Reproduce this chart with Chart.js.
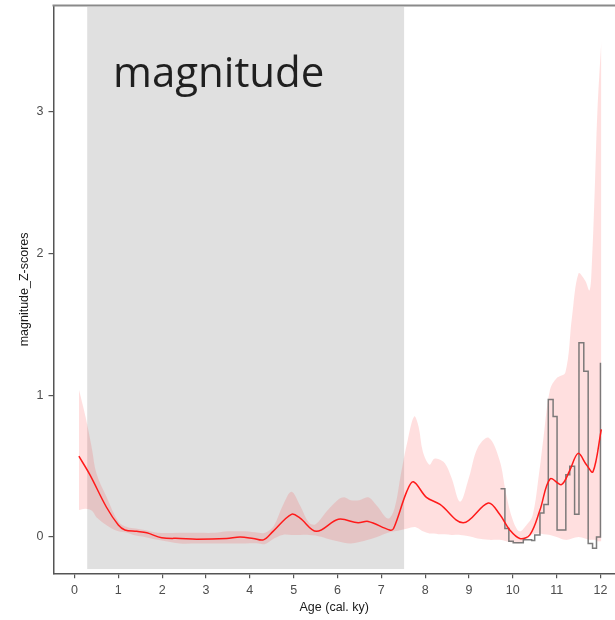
<!DOCTYPE html>
<html>
<head>
<meta charset="utf-8">
<script src="https://cdn.jsdelivr.net/npm/chart.js@4.4.1/dist/chart.umd.min.js"></script>
<style>
  html, body { margin: 0; padding: 0; background: #ffffff; }
  #wrap { width: 615px; height: 620px; position: relative; }
</style>
</head>
<body>
<div id="wrap"><canvas id="c" width="615" height="620"></canvas></div>
<script>
// ---- data ----
const xTicks = [0,1,2,3,4,5,6,7,8,9,10,11,12];
const yTicks = [0,1,2,3];

const meanAge = [0.1,0.35,0.73,1.0,1.15,1.42,1.65,1.99,2.41,2.79,3.47,3.78,4.08,4.31,4.53,4.95,5.14,5.52,6.02,6.47,6.70,7.19,7.28,7.58,7.73,8.03,8.34,8.87,9.44,9.70,9.93,10.16,10.39,10.62,10.85,11.11,11.30,11.49,11.68,11.83,12.02];
const meanZ   = [0.57,0.44,0.21,0.085,0.05,0.04,0.03,-0.005,-0.01,-0.015,-0.01,0.0,-0.01,-0.02,0.04,0.16,0.135,0.04,0.125,0.10,0.11,0.05,0.06,0.32,0.39,0.28,0.23,0.10,0.24,0.16,0.05,-0.01,0.015,0.19,0.41,0.37,0.47,0.59,0.51,0.46,0.76];

const bandAge   = [0.1,0.25,0.4,0.5,0.75,1.0,1.2,1.4,1.6,1.9,2.4,2.8,3.2,3.5,3.9,4.2,4.35,4.55,4.75,4.95,5.15,5.35,5.5,5.75,6.0,6.15,6.3,6.5,6.7,6.9,7.15,7.3,7.45,7.6,7.75,7.85,7.95,8.1,8.2,8.3,8.45,8.6,8.8,9.0,9.2,9.45,9.7,9.85,10.0,10.15,10.3,10.45,10.6,10.7,10.85,11.0,11.2,11.35,11.5,11.65,11.75,11.8,11.87,11.93,12.02];
const bandUpper = [1.04,0.85,0.62,0.45,0.27,0.11,0.07,0.06,0.05,0.03,0.03,0.03,0.03,0.04,0.04,0.03,0.03,0.08,0.22,0.32,0.22,0.10,0.09,0.18,0.26,0.28,0.26,0.26,0.28,0.22,0.13,0.20,0.45,0.68,0.85,0.78,0.60,0.51,0.55,0.55,0.52,0.42,0.25,0.42,0.63,0.70,0.54,0.30,0.12,0.04,0.08,0.15,0.45,0.70,1.04,1.12,1.16,1.55,1.86,1.81,1.74,1.90,2.45,3.00,3.50];
const bandLower = [0.19,0.20,0.185,0.14,0.08,0.04,0.03,0.01,0.0,-0.02,-0.045,-0.045,-0.045,-0.045,-0.045,-0.045,-0.05,-0.01,0.015,0.015,0.015,0.015,0.01,-0.01,-0.03,-0.04,-0.045,-0.035,-0.02,0.0,0.03,0.04,0.05,0.06,0.07,0.06,0.04,0.025,0.025,0.02,0.02,0.015,0.015,0.005,-0.01,-0.02,-0.02,-0.03,-0.04,-0.045,-0.02,0.02,0.025,0.02,0.015,0.0,-0.02,-0.01,0.0,-0.01,-0.02,-0.02,-0.02,-0.03,-0.03];

const stepAge = [9.72,9.82,9.91,10.01,10.24,10.43,10.50,10.62,10.71,10.81,10.92,11.01,11.21,11.30,11.41,11.51,11.62,11.72,11.82,11.91,12.00];
const stepZ   = [0.34,0.06,-0.03,-0.04,-0.02,-0.025,0.015,0.17,0.23,0.97,0.85,0.05,0.44,0.50,0.16,1.37,1.17,-0.045,-0.08,0.0,1.23];

const shadeAge = [0.29, 7.52];
const shadeZ   = [-0.226, 3.74];
const panelLabel = 'magnitude';
const xTitle = 'Age (cal. ky)';
const yTitle = 'magnitude_Z-scores';

const pts = (xs, ys) => xs.map((x, i) => ({x: x, y: ys[i]}));

const shadePlugin = {
  id: 'shade',
  beforeDatasetsDraw(chart) {
    const {ctx} = chart;
    const xs = chart.scales.x, ys = chart.scales.y;
    const x0 = xs.getPixelForValue(shadeAge[0]), x1 = xs.getPixelForValue(shadeAge[1]);
    const y0 = ys.getPixelForValue(shadeZ[1]), y1 = ys.getPixelForValue(shadeZ[0]);
    ctx.save();
    ctx.fillStyle = '#e0e0e0';
    ctx.fillRect(x0, y0, x1 - x0, y1 - y0);
    ctx.restore();
  },
  afterDraw(chart) {
    const {ctx, chartArea} = chart;
    ctx.save();
    ctx.strokeStyle = '#8a8a8a';
    ctx.lineWidth = 2;
    ctx.beginPath();
    ctx.moveTo(chartArea.left - 1, chartArea.top);
    ctx.lineTo(chartArea.right, chartArea.top);
    ctx.stroke();
    ctx.fillStyle = '#1f1f1f';
    ctx.font = '42px "Open Sans"';
    ctx.textBaseline = 'alphabetic';
    ctx.textAlign = 'left';
    ctx.fillText(panelLabel, 113, 87);
    ctx.restore();
  }
};

new Chart(document.getElementById('c'), {
  type: 'line',
  data: {
    datasets: [
      { label: 'mean', data: pts(meanAge, meanZ), borderColor: '#ff1a1a', borderWidth: 1.5, pointRadius: 0, tension: 0.35, fill: false },
      { label: 'record', data: pts(stepAge, stepZ), borderColor: 'rgba(110,110,110,0.9)', borderWidth: 1.5, pointRadius: 0, stepped: 'before', fill: false },
      { label: 'lower', data: pts(bandAge, bandLower), borderColor: 'rgba(0,0,0,0)', borderWidth: 0, pointRadius: 0, tension: 0.35, fill: false },
      { label: 'upper', data: pts(bandAge, bandUpper), borderColor: 'rgba(0,0,0,0)', borderWidth: 0, pointRadius: 0, tension: 0.35, fill: '-1', backgroundColor: 'rgba(255,40,40,0.15)' }
    ]
  },
  options: {
    responsive: false,
    animation: false,
    events: [],
    layout: { padding: { top: 5.5, right: 0, left: 0, bottom: 0 } },
    plugins: { legend: { display: false }, tooltip: { enabled: false } },
    scales: {
      x: {
        type: 'linear', min: -0.479, max: 12.332,
        afterFit: s => { s.height = 46.7; s.paddingLeft = 0; s.paddingRight = 0; },
        afterBuildTicks: s => { s.ticks = xTicks.map(v => ({value: v})); },
        grid: { display: true, drawOnChartArea: false, drawTicks: true, tickLength: 5, color: '#555', lineWidth: 1.2 },
        border: { display: true, color: '#555', width: 1.5 },
        ticks: { color: '#4d4d4d', font: { family: '"Liberation Sans", Arial', size: 12.5 }, padding: 5, maxRotation: 0, autoSkip: false },
        title: { display: true, text: xTitle, color: '#1a1a1a', font: { family: '"Liberation Sans", Arial', size: 12.5 }, padding: { top: 0, bottom: 4.5 } }
      },
      y: {
        type: 'linear', min: -0.256, max: 3.75,
        afterFit: s => { s.width = 53.5; s.paddingTop = 0; s.paddingBottom = 0; },
        afterBuildTicks: s => { s.ticks = yTicks.map(v => ({value: v})); },
        grid: { display: true, drawOnChartArea: false, drawTicks: true, tickLength: 5, color: '#555', lineWidth: 1.2 },
        border: { display: true, color: '#555', width: 1.5 },
        ticks: { color: '#4d4d4d', font: { family: '"Liberation Sans", Arial', size: 12.5 }, padding: 5, autoSkip: false },
        title: { display: true, text: yTitle, color: '#1a1a1a', font: { family: '"Liberation Sans", Arial', size: 12.5 }, padding: { top: 17, bottom: 0 } }
      }
    }
  },
  plugins: [shadePlugin]
});
</script>
</body>
</html>
